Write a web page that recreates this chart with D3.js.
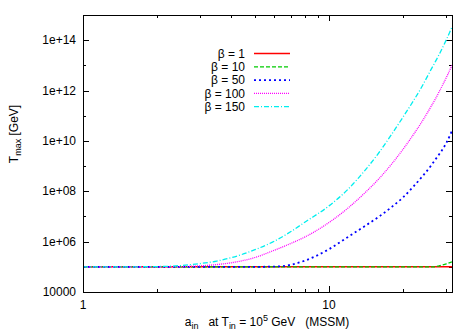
<!DOCTYPE html>
<html>
<head>
<meta charset="utf-8">
<script src="https://cdn.jsdelivr.net/npm/d3@7"></script>
<style>
  body { margin: 0; background: #fff; }
  text { font-family: "Liberation Sans", Arial, sans-serif; fill: #000; }
</style>
</head>
<body>
<div id="chart"></div>
<script>
var svgWidth = 475;
var svgHeight = 332;

var margin = { top: 15, right: 23, bottom: 40, left: 83 };
var width = 452 - margin.left;
var height = 292 - margin.top;

// a_in grid
var aValues = [1, 1.5, 2, 2.5, 3, 3.5, 4, 5, 6, 7, 8, 10, 12, 14, 16, 18, 20, 22, 24, 26, 27, 28, 30, 31.6];

// log10(T_max / GeV)
var beta1   = [5, 5, 5, 5, 5, 5, 5, 5, 5, 5, 5, 5, 5, 5, 5, 5, 5, 5, 5, 5, 5, 5, 5, 5];
var beta10  = [5, 5, 5, 5, 5, 5, 5, 5, 5, 5, 5, 5, 5, 5, 5, 5, 5, 5, 5, 5, 5.0, 5.04, 5.12, 5.2];
var beta50  = [5, 5, 5, 5, 5, 5, 5, 5, 5.01, 5.08, 5.25, 5.7, 6.2, 6.62, 7.0, 7.38, 7.76, 8.18, 8.6, 9.02, 9.25, 9.46, 9.92, 10.4];
var beta100 = [5, 5, 5, 5.01, 5.04, 5.09, 5.16, 5.37, 5.66, 5.93, 6.19, 6.76, 7.35, 7.94, 8.51, 9.09, 9.67, 10.24, 10.8, 11.37, 11.65, 11.94, 12.52, 13.0];
var beta150 = [5, 5, 5.01, 5.05, 5.13, 5.23, 5.36, 5.68, 6.02, 6.4, 6.78, 7.42, 8.1, 8.83, 9.55, 10.27, 10.95, 11.58, 12.2, 12.84, 13.13, 13.42, 14.02, 14.52];

var legendLabels = ["β = 1", "β = 10", "β = 50", "β = 100", "β = 150"];
var colors = ["#ff0000", "#00cc00", "#0000ff", "#ff00ff", "#00eeee"];
var dashes = [null, "4,2", "2,3", "1,1", "5,2,1,2"];
var widths = [1.6, 1.3, 1.8, 1.3, 1.3];
var allSeries = [beta1, beta10, beta50, beta100, beta150];

var yTickValues = [1e4, 1e6, 1e8, 1e10, 1e12, 1e14];
var yTickLabels = ["10000", "1e+06", "1e+08", "1e+10", "1e+12", "1e+14"];

var svg = d3.select("#chart")
  .append("svg")
  .attr("width", svgWidth)
  .attr("height", svgHeight);

var chartGroup = svg.append("g")
  .attr("transform", `translate(${margin.left}, ${margin.top})`);

var xScale = d3.scaleLog().domain([1, 31.62]).range([0, width]);
var yScale = d3.scaleLog().domain([1e4, 1e15]).range([height, 0]);

// ticks
var xMajor = [1, 10];
var xMinor = [2, 3, 4, 5, 6, 7, 8, 9, 20, 30];
var yAll = d3.range(4, 16).map(e => Math.pow(10, e));
var yMinor = yAll.filter(v => yTickValues.indexOf(v) < 0);

var tickG = chartGroup.append("g").attr("stroke", "#000").attr("stroke-width", 1);
xMajor.forEach(function (v) {
  var x = Math.round(xScale(v)) + 0.5;
  tickG.append("line").attr("x1", x).attr("x2", x).attr("y1", height).attr("y2", height - 6);
  tickG.append("line").attr("x1", x).attr("x2", x).attr("y1", 0).attr("y2", 6);
});
xMinor.forEach(function (v) {
  var x = Math.round(xScale(v)) + 0.5;
  tickG.append("line").attr("x1", x).attr("x2", x).attr("y1", height).attr("y2", height - 3);
  tickG.append("line").attr("x1", x).attr("x2", x).attr("y1", 0).attr("y2", 3);
});
yTickValues.forEach(function (v) {
  var y = Math.round(yScale(v)) + 0.5;
  tickG.append("line").attr("x1", 0).attr("x2", 6).attr("y1", y).attr("y2", y);
  tickG.append("line").attr("x1", width).attr("x2", width - 6).attr("y1", y).attr("y2", y);
});
yMinor.forEach(function (v) {
  var y = Math.round(yScale(v)) + 0.5;
  tickG.append("line").attr("x1", 0).attr("x2", 3).attr("y1", y).attr("y2", y);
  tickG.append("line").attr("x1", width).attr("x2", width - 3).attr("y1", y).attr("y2", y);
});

// tick labels
chartGroup.selectAll(".ylab")
  .data(yTickValues)
  .enter()
  .append("text")
  .attr("x", -7)
  .attr("y", d => yScale(d))
  .attr("dy", "0.35em")
  .attr("text-anchor", "end")
  .style("font-size", "12px")
  .text((d, i) => yTickLabels[i]);

chartGroup.selectAll(".xlab")
  .data(xMajor)
  .enter()
  .append("text")
  .attr("x", d => xScale(d))
  .attr("y", height + 17)
  .attr("text-anchor", "middle")
  .style("font-size", "12px")
  .text(d => d);

// curves
var line = d3.line()
  .x((d, i) => xScale(aValues[i]))
  .y(d => yScale(Math.pow(10, d)))
  .curve(d3.curveMonotoneX);

svg.append("defs").append("clipPath").attr("id", "clip")
  .append("rect").attr("width", width).attr("height", height);

chartGroup.append("g").attr("clip-path", "url(#clip)")
  .selectAll("path")
  .data(allSeries)
  .enter()
  .append("path")
  .attr("fill", "none")
  .attr("stroke", (d, i) => colors[i])
  .attr("stroke-width", (d, i) => widths[i])
  .attr("stroke-dasharray", (d, i) => dashes[i])
  .attr("d", line);

// frame
chartGroup.append("rect")
  .attr("x", 0.5).attr("y", 0.5)
  .attr("width", width).attr("height", height)
  .attr("fill", "none")
  .attr("stroke", "#000")
  .attr("stroke-width", 1);

// legend
var legend = chartGroup.append("g");
legendLabels.forEach(function (lab, i) {
  var y = 38.5 + i * 13.3;
  legend.append("text")
    .attr("x", 162)
    .attr("y", y)
    .attr("dy", "0.35em")
    .attr("text-anchor", "end")
    .style("font-size", "12px")
    .text(lab);
  legend.append("line")
    .attr("x1", 171).attr("x2", 207)
    .attr("y1", y).attr("y2", y)
    .attr("stroke", colors[i])
    .attr("stroke-width", widths[i])
    .attr("stroke-dasharray", dashes[i]);
});

// axis titles
var yTitle = svg.append("text")
  .attr("transform", "translate(18, 134) rotate(-90)")
  .attr("text-anchor", "middle")
  .style("font-size", "12px");
yTitle.append("tspan").text("T");
yTitle.append("tspan").attr("dy", 3).style("font-size", "9px").text("max");
yTitle.append("tspan").attr("dy", -3).text(" [GeV]");

var xTitle = svg.append("text")
  .attr("x", 267)
  .attr("y", 326)
  .attr("text-anchor", "middle")
  .style("font-size", "12px")
  .style("white-space", "pre");
xTitle.append("tspan").text("a");
xTitle.append("tspan").attr("dy", 3).style("font-size", "9px").text("in");
xTitle.append("tspan").attr("dy", -3).text("   at T");
xTitle.append("tspan").attr("dy", 3).style("font-size", "9px").text("in");
xTitle.append("tspan").attr("dy", -3).text(" = 10");
xTitle.append("tspan").attr("dy", -5).style("font-size", "9px").text("5");
xTitle.append("tspan").attr("dy", 5).text(" GeV   (MSSM)");
</script>
</body>
</html>
